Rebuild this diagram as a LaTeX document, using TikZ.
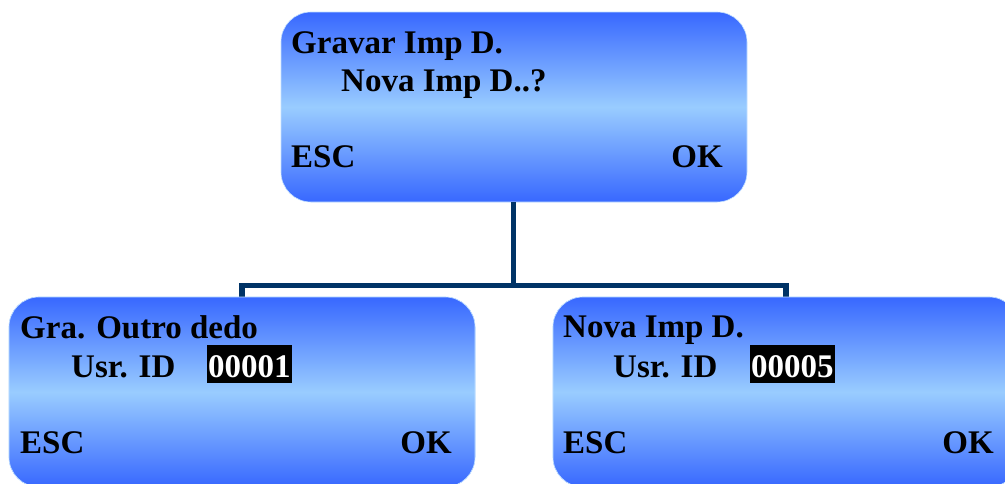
\documentclass[tikz,border=0pt]{standalone}
\usepackage{fontspec}
\setmainfont{Liberation Serif}
\definecolor{scrblue}{RGB}{56,104,255}
\definecolor{scrlight}{RGB}{153,204,255}
\definecolor{navy}{RGB}{0,51,102}
\tikzset{
  screen/.style={rounded corners=30pt, minimum width=466pt, minimum height=190pt,
    shading=axis, top color=scrblue, bottom color=scrblue, middle color=scrlight,
    draw=scrlight!60!white, line width=0.6pt, inner sep=0pt},
  lbl/.style={anchor=base west, inner sep=0pt, font=\fontsize{33}{40}\selectfont\bfseries},
  lblr/.style={anchor=base east, inner sep=0pt, font=\fontsize{33}{40}\selectfont\bfseries},
  idbox/.style={anchor=base west, fill=black, text=white, inner xsep=1pt, inner ysep=0pt,
    text height=32pt, text depth=6pt, font=\fontsize{33}{40}\selectfont\bfseries},
  link/.style={draw=navy, line width=5.5pt}
}
\begin{document}
\begin{tikzpicture}
\useasboundingbox (0pt,0pt) rectangle (1005pt,-483pt);
\clip (0pt,0pt) rectangle (1005pt,-483pt);
\node[screen] (top) at (514pt,-107pt) {};
\node[screen] (left) at (242pt,-392pt) {};
\node[screen] (right) at (786pt,-392pt) {};
\coordinate (junction) at (513.5pt,-285.6pt);
\draw[link] ([xshift=-0.5pt]top.south) -- (junction);
\draw[link, line join=miter] (junction) -| ([yshift=-2pt]left.north);
\draw[link, line join=miter] (junction) -| ([yshift=-2pt]right.north);
% redraw boxes over connector ends
\node[screen] at (left) {};
\node[screen] at (right) {};
% top box texts
\node[lbl] (t1) at (291pt,-53pt) {Gravar Imp D.};
\node[lbl] (t2) at (341pt,-91pt) {Nova Imp D..?};
\node[lbl] (t3) at (291pt,-167pt) {ESC};
\node[lblr] (t4) at (723pt,-167pt) {OK};
% left box texts
\node[lbl] (l1) at (20pt,-338pt) {Gra. Outro dedo};
\node[lbl] (l2) at (71pt,-377pt) {Usr. ID};
\node[idbox] (l3) at (207pt,-377pt) {00001};
\node[lbl] (l4) at (20pt,-453pt) {ESC};
\node[lblr] (l5) at (452pt,-453pt) {OK};
% right box texts
\node[lbl] (r1) at (563pt,-337pt) {Nova Imp D.};
\node[lbl] (r2) at (613pt,-377pt) {Usr. ID};
\node[idbox] (r3) at (750pt,-377pt) {00005};
\node[lbl] (r4) at (563pt,-453pt) {ESC};
\node[lblr] (r5) at (994pt,-453pt) {OK};
\end{tikzpicture}
\end{document}
